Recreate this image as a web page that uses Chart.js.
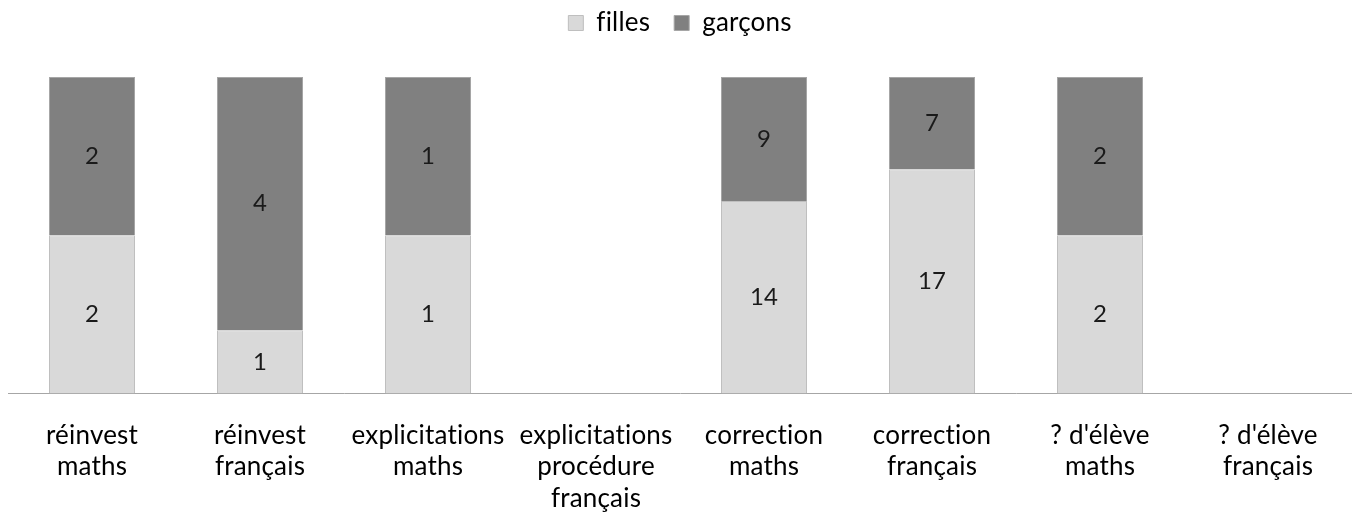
<!DOCTYPE html>
<html>
<head>
<meta charset="utf-8">
<script src="https://cdn.jsdelivr.net/npm/chart.js@4/dist/chart.umd.min.js"></script>
<style>
  html, body { margin: 0; padding: 0; background: #fff; }
  #wrap { width: 1352px; height: 516px; }
</style>
</head>
<body>
<div id="wrap"><canvas id="chart"></canvas></div>
<script>
const categories = [
    ['réinvest', 'maths'],
    ['réinvest', 'français'],
    ['explicitations', 'maths'],
    ['explicitations', 'procédure', 'français'],
    ['correction', 'maths'],
    ['correction', 'français'],
    ["? d'élève", 'maths'],
    ["? d'élève", 'français']
]
const filles = [2, 1, 1, 0, 14, 17, 2, 0]
const garcons = [2, 4, 1, 0, 9, 7, 2, 0]

const fontName = "Lato, sans-serif"

// 100% stacked: convert counts to shares, keep raw counts for labels
function share(values, index) {
    let tot = filles[index] + garcons[index]
    return tot ? values[index] / tot * 100 : 0
}
let fillesPct = filles.map((v, i) => share(filles, i))
let garconsPct = garcons.map((v, i) => share(garcons, i))

// no "fi" / "ti" ligatures, the original text has none
function noLigatures(chart) {
    chart.ctx.letterSpacing = '0.2px'
    chart.ctx.textRendering = 'optimizeSpeed'
}

const rawLabels = {
    id: 'rawLabels',
    beforeLayout: noLigatures,
    beforeDraw: noLigatures,
    afterDatasetsDraw(chart) {
        const ctx = chart.ctx
        const raws = [filles, garcons]
        ctx.save()
        ctx.font = "24px " + fontName
        ctx.fillStyle = '#1a1a1a'
        ctx.textAlign = 'center'
        ctx.textBaseline = 'middle'
        chart.data.datasets.forEach((ds, di) => {
            chart.getDatasetMeta(di).data.forEach((bar, i) => {
                let v = raws[di][i]
                if (!v) return
                let mid = (bar.y + bar.base) / 2
                ctx.fillText(v, bar.x, mid)
            })
        })
        ctx.restore()
    }
}

// leave some room between the legend and the bars
const legendGap = {
    id: 'legendGap',
    beforeInit(chart) {
        const fit = chart.legend.fit
        chart.legend.fit = function () {
            fit.bind(chart.legend)()
            this.height += 31
        }
    }
}

new Chart(document.getElementById('chart'), {
    type: 'bar',
    data: {
        labels: categories,
        datasets: [{
            label: 'filles',
            data: fillesPct,
            backgroundColor: '#d9d9d9',
            borderColor: '#bfbfbf',
            borderWidth: 1,
            borderSkipped: 'bottom'
        }, {
            label: 'garçons',
            data: garconsPct,
            backgroundColor: '#808080',
            borderColor: '#a6a6a6',
            borderWidth: 1,
            borderSkipped: 'bottom'
        }]
    },
    options: {
        responsive: true,
        maintainAspectRatio: false,
        animation: false,
        categoryPercentage: 1,
        barPercentage: 0.512,
        layout: { padding: { left: 8, right: 0, top: -14, bottom: 2 } },
        plugins: {
            legend: {
                position: 'top',
                labels: {
                    boxWidth: 15,
                    boxHeight: 15,
                    padding: 24,
                    color: '#000',
                    font: { family: fontName, size: 26 }
                }
            },
            tooltip: { enabled: false }
        },
        scales: {
            x: {
                stacked: true,
                grid: { display: false, drawTicks: true, tickLength: 26 },
                border: { color: '#a6a6a6', width: 1 },
                ticks: {
                    color: '#000',
                    maxRotation: 0,
                    autoSkip: false,
                    padding: 0,
                    font: { family: fontName, size: 26, lineHeight: 1.21 }
                }
            },
            y: {
                stacked: true,
                display: false,
                min: 0,
                max: 100
            }
        }
    },
    plugins: [rawLabels, legendGap]
})
</script>
</body>
</html>
